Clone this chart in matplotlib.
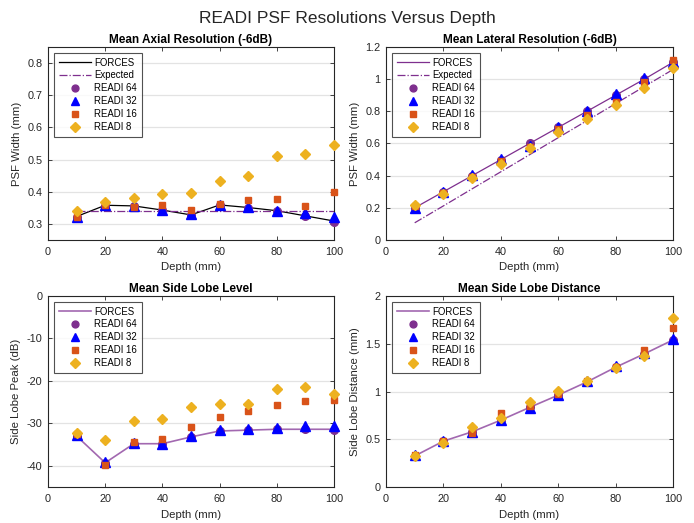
import matplotlib
matplotlib.use("Agg")
import matplotlib.pyplot as plt

plt.rcParams['font.family'] = ['Liberation Sans', 'DejaVu Sans']

depth = [10, 20, 30, 40, 50, 60, 70, 80, 90, 100]

# Mean axial resolution (mm)
ax_forces = [0.323, 0.358, 0.356, 0.343, 0.328, 0.359, 0.351, 0.341, 0.325, 0.309]
ax_expected = [0.339] * 10
ax_r64 = [0.321, 0.357, 0.355, 0.342, 0.327, 0.358, 0.350, 0.340, 0.324, 0.307]
ax_r32 = [0.322, 0.360, 0.356, 0.344, 0.332, 0.360, 0.352, 0.340, 0.335, 0.320]
ax_r16 = [0.322, 0.360, 0.354, 0.360, 0.343, 0.361, 0.373, 0.376, 0.355, 0.398]
ax_r8 = [0.340, 0.368, 0.380, 0.392, 0.396, 0.432, 0.450, 0.512, 0.517, 0.544]

# Mean lateral resolution (mm)
lat_forces = [0.200, 0.300, 0.400, 0.500, 0.600, 0.700, 0.800, 0.900, 1.000, 1.105]
lat_expected = [0.107, 0.212, 0.318, 0.424, 0.530, 0.636, 0.742, 0.848, 0.954, 1.060]
lat_r64 = [0.200, 0.300, 0.400, 0.500, 0.605, 0.700, 0.800, 0.900, 1.000, 1.105]
lat_r32 = [0.200, 0.300, 0.405, 0.505, 0.585, 0.705, 0.805, 0.905, 1.005, 1.105]
lat_r16 = [0.210, 0.295, 0.390, 0.490, 0.580, 0.690, 0.780, 0.860, 0.980, 1.120]
lat_r8 = [0.220, 0.285, 0.385, 0.470, 0.570, 0.670, 0.750, 0.840, 0.945, 1.070]

# Mean side lobe level (dB)
sll_forces = [-33.0, -39.3, -34.8, -34.8, -33.2, -31.8, -31.6, -31.4, -31.4, -31.4]
sll_r64 = [-33.0, -39.3, -34.8, -34.8, -33.2, -31.8, -31.6, -31.4, -31.4, -31.5]
sll_r32 = [-32.8, -39.2, -34.6, -34.8, -33.0, -31.6, -31.4, -31.1, -30.6, -30.6]
sll_r16 = [-32.5, -39.9, -34.3, -33.7, -30.8, -28.5, -27.2, -25.7, -24.8, -24.4]
sll_r8 = [-32.2, -34.0, -29.4, -28.9, -26.2, -25.5, -25.5, -21.8, -21.4, -23.1]

# Mean side lobe distance (mm)
sld_forces = [0.325, 0.480, 0.578, 0.700, 0.833, 0.962, 1.100, 1.254, 1.394, 1.540]
sld_r64 = [0.325, 0.480, 0.578, 0.700, 0.833, 0.962, 1.100, 1.254, 1.394, 1.540]
sld_r32 = [0.330, 0.485, 0.580, 0.700, 0.830, 0.968, 1.110, 1.270, 1.400, 1.550]
sld_r16 = [0.330, 0.480, 0.570, 0.770, 0.850, 0.970, 1.110, 1.260, 1.430, 1.660]
sld_r8 = [0.320, 0.460, 0.630, 0.720, 0.890, 1.010, 1.110, 1.250, 1.370, 1.770]

PURPLE = '#7E2F8E'
LIGHT_PURPLE = '#A268B0'
BLUE = '#0000FF'
ORANGE = '#D95319'
YELLOW = '#EDB120'
AXC = '#262626'
FS = 8.2
TFS = 7.8
LFS = 6.9

fig = plt.figure(figsize=(6.94, 5.23), dpi=100)
W, H = 694.0, 523.0


def make_ax(x0, x1, ytop, ybot):
    return fig.add_axes([x0 / W, 1 - ybot / H, (x1 - x0) / W, (ybot - ytop) / H])


axes = [make_ax(48, 334, 47, 240), make_ax(386, 673, 47, 240),
        make_ax(48, 334, 296, 487), make_ax(386, 673, 296, 487)]


def style(ax, title, ylabel, ylim, yticks, yticklabels):
    ax.set_xlim(0, 100)
    ax.set_xticks([0, 20, 40, 60, 80, 100])
    ax.set_ylim(*ylim)
    ax.set_yticks(yticks)
    ax.set_yticklabels(yticklabels)
    ax.set_title(title, fontsize=8.5, fontweight='bold', color='black', pad=3)
    ax.set_xlabel('Depth (mm)', fontsize=FS, color=AXC, labelpad=4)
    ax.set_ylabel(ylabel, fontsize=FS, color=AXC, labelpad=4)
    ax.tick_params(direction='in', top=True, right=True, labelsize=TFS,
                   colors=AXC, length=3, width=0.6, pad=4)
    ax.tick_params(axis='x', pad=5)
    for s in ax.spines.values():
        s.set_color(AXC)
        s.set_linewidth(0.8)
    ax.yaxis.grid(True, color='#E3E3E3', linewidth=0.9)
    ax.set_axisbelow(True)


def markers(ax, r64, r32, r16, r8):
    kw = dict(linestyle='none', clip_on=False, zorder=3)
    ax.plot(depth, r64, 'o', color=PURPLE, markersize=5.5, label='READI 64', **kw)
    ax.plot(depth, r32, '^', color=BLUE, markersize=6.5, label='READI 32', **kw)
    ax.plot(depth, r16, 's', color=ORANGE, markersize=5, label='READI 16', **kw)
    ax.plot(depth, r8, 'D', color=YELLOW, markersize=5.5, label='READI 8', **kw)


def legend(ax):
    leg = ax.legend(loc='upper left', fontsize=LFS, frameon=True, fancybox=False,
                    edgecolor=AXC, handlelength=3.4, borderpad=0.5,
                    labelspacing=0.3, handletextpad=0.3, borderaxespad=0.6,
                    markerscale=0.9)
    leg.get_frame().set_linewidth(0.8)
    leg.set_zorder(5)


# Axial
a = axes[0]
a.plot(depth, ax_forces, '-', color='black', linewidth=0.9, label='FORCES')
a.plot(depth, ax_expected, '-.', color=PURPLE, linewidth=0.9, label='Expected')
markers(a, ax_r64, ax_r32, ax_r16, ax_r8)
style(a, 'Mean Axial Resolution (-6dB)', 'PSF Width (mm)', (0.25, 0.85),
      [0.3, 0.4, 0.5, 0.6, 0.7, 0.8], ['0.3', '0.4', '0.5', '0.6', '0.7', '0.8'])
legend(a)

# Lateral
a = axes[1]
a.plot(depth, lat_forces, '-', color=PURPLE, linewidth=0.9, label='FORCES')
a.plot(depth, lat_expected, '-.', color=PURPLE, linewidth=0.9, label='Expected')
markers(a, lat_r64, lat_r32, lat_r16, lat_r8)
style(a, 'Mean Lateral Resolution (-6dB)', 'PSF Width (mm)', (0, 1.2),
      [0, 0.2, 0.4, 0.6, 0.8, 1.0, 1.2], ['0', '0.2', '0.4', '0.6', '0.8', '1', '1.2'])
legend(a)

# Side lobe level
a = axes[2]
a.plot(depth, sll_forces, '-', color=LIGHT_PURPLE, linewidth=1.2, label='FORCES')
markers(a, sll_r64, sll_r32, sll_r16, sll_r8)
style(a, 'Mean Side Lobe Level', 'Side Lobe Peak (dB)', (-45, 0),
      [-40, -30, -20, -10, 0], ['-40', '-30', '-20', '-10', '0'])
legend(a)

# Side lobe distance
a = axes[3]
a.plot(depth, sld_forces, '-', color=LIGHT_PURPLE, linewidth=1.2, label='FORCES')
markers(a, sld_r64, sld_r32, sld_r16, sld_r8)
style(a, 'Mean Side Lobe Distance', 'Side Lobe Distance (mm)', (0, 2),
      [0, 0.5, 1.0, 1.5, 2.0], ['0', '0.5', '1', '1.5', '2'])
legend(a)

fig.text(0.5, 1 - 18 / H, 'READI PSF Resolutions Versus Depth', ha='center', va='center',
         fontsize=12.5, color=AXC)

fig.savefig('out.png', dpi=100, facecolor='white')
